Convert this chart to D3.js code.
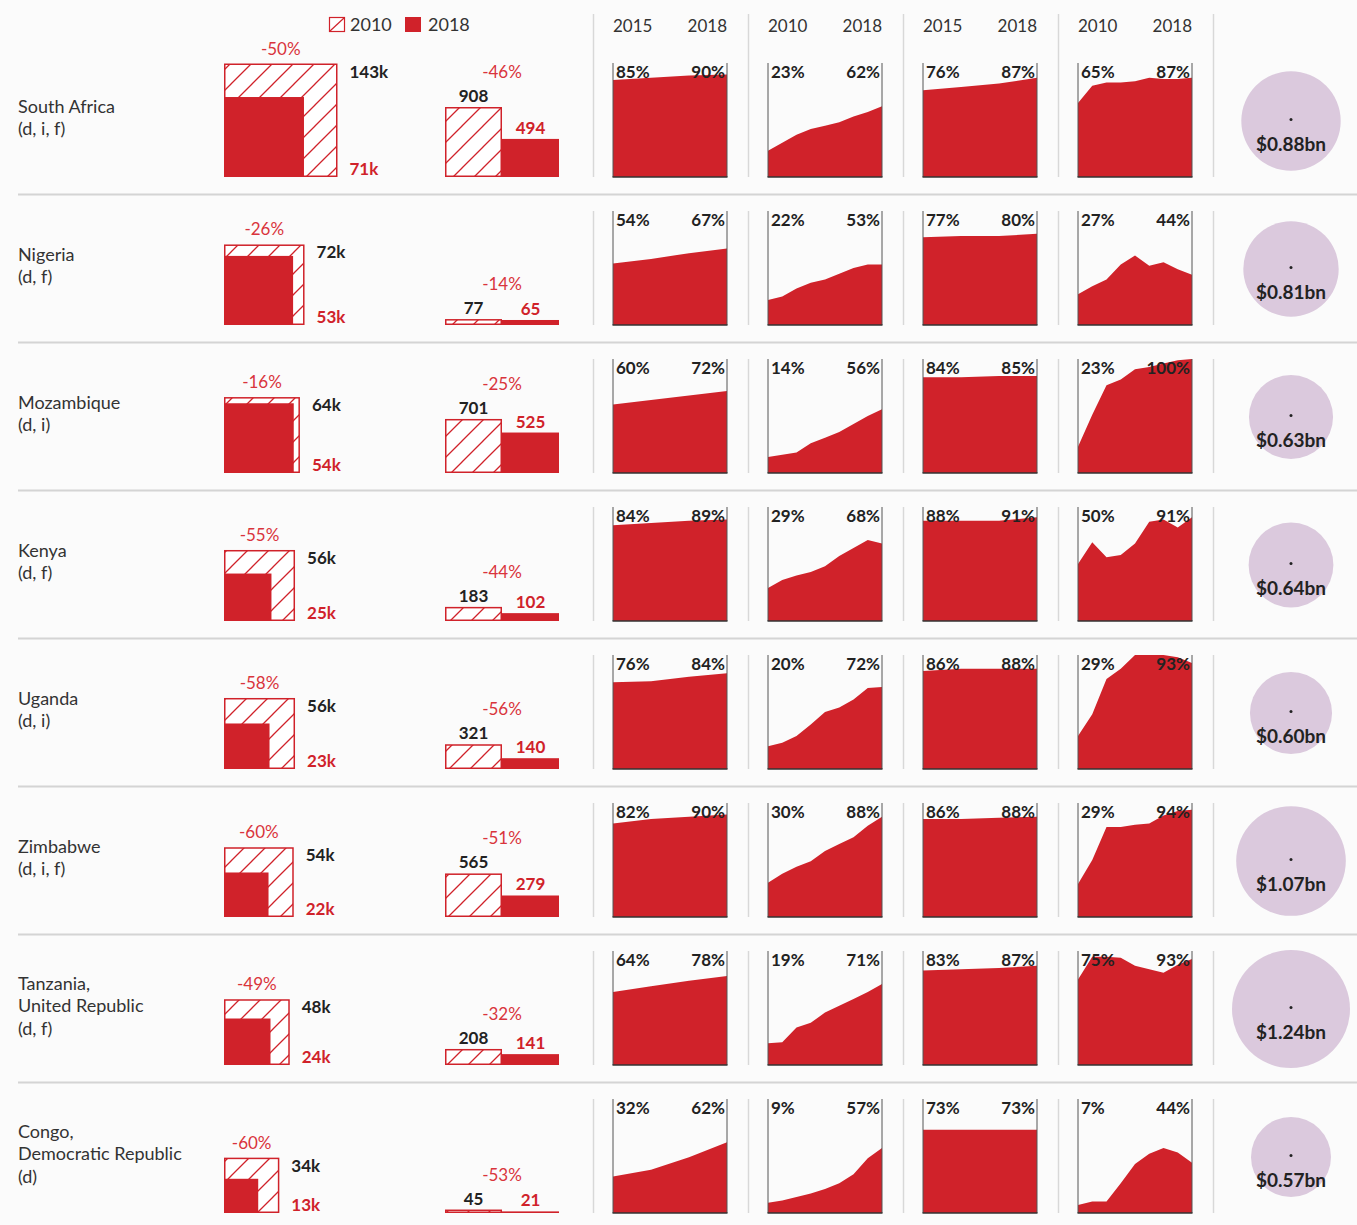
<!DOCTYPE html>
<html><head><meta charset="utf-8">
<script src="https://cdn.jsdelivr.net/npm/d3@7"></script>
<style>
html,body{margin:0;padding:0;background:#fbfbfb;}
svg{display:block;font-family:Lato,"Open Sans",sans-serif;}
</style></head><body>
<svg id="c" width="1357" height="1225"></svg>
<script>
// ---------- DATA ----------
const countryLines = [
  ["South Africa", "(d, i, f)"],
  ["Nigeria", "(d, f)"],
  ["Mozambique", "(d, i)"],
  ["Kenya", "(d, f)"],
  ["Uganda", "(d, i)"],
  ["Zimbabwe", "(d, i, f)"],
  ["Tanzania,", "United Republic", "(d, f)"],
  ["Congo,", "Democratic Republic", "(d)"]
];
const legendLabels = ["2010", "2018"];
const square2010 = [143, 72, 64, 56, 56, 54, 48, 34];   // thousands
const square2018 = [71, 53, 54, 25, 23, 22, 24, 13];
const squareChange = ["-50%", "-26%", "-16%", "-55%", "-58%", "-60%", "-49%", "-60%"];
const bar2010 = [908, 77, 701, 183, 321, 565, 208, 45];
const bar2018 = [494, 65, 525, 102, 140, 279, 141, 21];
const barChange = ["-46%", "-14%", "-25%", "-44%", "-56%", "-51%", "-32%", "-53%"];
const fundingBn = [0.88, 0.81, 0.63, 0.64, 0.60, 1.07, 1.24, 0.57];

const years4 = [2015, 2016, 2017, 2018];
const years9 = [2010, 2011, 2012, 2013, 2014, 2015, 2016, 2017, 2018];
const panelYears = [years4, years9, years4, years9];

const panel1 = [
  [85, 87, 89, 90], [54, 58, 63, 67], [60, 64, 68, 72], [84, 86, 88, 89],
  [76, 77, 81, 84], [82, 86, 88, 90], [64, 69, 74, 78], [32, 38, 49, 62]
];
const panel2 = [
  [23, 30, 37, 42, 45, 48, 53, 57, 62],
  [22, 25, 32, 37, 40, 45, 50, 53, 53],
  [14, 16, 18, 26, 31, 36, 43, 50, 56],
  [29, 36, 40, 43, 48, 57, 64, 71, 68],
  [20, 23, 29, 39, 50, 54, 61, 71, 72],
  [30, 38, 44, 49, 58, 64, 70, 80, 88],
  [19, 20, 33, 37, 46, 52, 58, 64, 71],
  [9, 11, 14, 17, 21, 26, 34, 48, 57]
];
const panel3 = [
  [76, 79, 82, 87], [77, 78, 78, 80], [84, 84, 85, 85], [88, 88, 88, 91],
  [86, 88, 88, 88], [86, 86, 87, 88], [83, 84, 85, 87], [73, 73, 73, 73]
];
const panel4 = [
  [65, 80, 83, 83, 84, 87, 86, 86, 87],
  [27, 34, 40, 53, 61, 52, 55, 49, 44],
  [23, 51, 77, 82, 91, 93, 96, 99, 100],
  [50, 69, 56, 58, 68, 87, 89, 82, 91],
  [29, 48, 79, 88, 100, 100, 100, 98, 93],
  [29, 50, 79, 79, 81, 82, 89, 93, 94],
  [75, 95, 95, 94, 87, 84, 81, 88, 93],
  [7, 10, 10, 26, 43, 52, 57, 53, 44]
];
const panels = [panel1, panel2, panel3, panel4];

// ---------- DRAW ----------
const svg = d3.select("#c");
const RED = "#d0222a", LRED = "#d9343c", DARK = "#222", TXT = "#333";
svg.append("rect").attr("width", 1357).attr("height", 1225).attr("fill", "#fbfbfb");

const defs = svg.append("defs");
const pat = defs.append("pattern").attr("id", "hatch").attr("patternUnits", "userSpaceOnUse")
  .attr("width", 21).attr("height", 21);
pat.append("rect").attr("width", 21).attr("height", 21).attr("fill", "#fff");
pat.append("path").attr("d", "M-1,22 L22,-1 M-6,6 L6,-6 M15,27 L27,15")
  .attr("stroke", RED).attr("stroke-width", 1.3);

const rowH = 148, row0 = 46, panelH = 114, panelW = 114;
const panelX = [613, 768, 923, 1078];
const sepX = [593, 748, 903, 1058, 1213];
const sqScale = d3.scaleSqrt().domain([0, 143]).range([0, 113.5]);
const barScale = d3.scaleLinear().domain([0, 908]).range([0, 70]);
const rScale = d3.scaleSqrt().domain([0, 1.24]).range([0, 59]);

// header years
panelYears.forEach((yrs, p) => {
  svg.append("text").attr("x", panelX[p]).attr("y", 32).attr("font-size", 17).attr("fill", TXT)
    .text(yrs[0]);
  svg.append("text").attr("x", panelX[p] + panelW).attr("y", 32).attr("font-size", 17).attr("fill", TXT)
    .attr("text-anchor", "end").text(yrs[yrs.length - 1]);
});

// legend
svg.append("rect").attr("x", 329.5).attr("y", 17.5).attr("width", 15).attr("height", 14)
  .attr("fill", "#fff").attr("stroke", RED).attr("stroke-width", 1.2);
svg.append("line").attr("x1", 330).attr("y1", 31).attr("x2", 344).attr("y2", 18)
  .attr("stroke", RED).attr("stroke-width", 1.2);
svg.append("text").attr("x", 350).attr("y", 31).attr("font-size", 18).attr("fill", TXT).text(legendLabels[0]);
svg.append("rect").attr("x", 405).attr("y", 17).attr("width", 16).attr("height", 15).attr("fill", RED);
svg.append("text").attr("x", 428).attr("y", 31).attr("font-size", 18).attr("fill", TXT).text(legendLabels[1]);

// horizontal separators
for (let i = 0; i < countryLines.length - 1; i++) {
  const y = row0 + rowH * (i + 1) + 0.5;
  svg.append("line").attr("x1", 18).attr("x2", 1357).attr("y1", y).attr("y2", y)
    .attr("stroke", "#d4d4d4").attr("stroke-width", 1.8);
}

countryLines.forEach((lines, i) => {
  const top = row0 + rowH * i;
  const base = top + 131;
  const g = svg.append("g");

  // country label
  const cy = top + 72;
  lines.forEach((t, j) => {
    g.append("text").attr("x", 18).attr("y", cy - (lines.length - 1) * 22.5 / 2 + j * 22.5 + 6)
      .attr("font-size", 18).attr("fill", TXT).text(t);
  });

  // squares
  const s10 = sqScale(square2010[i]), s18 = sqScale(square2018[i]);
  g.append("rect").attr("x", 224.75).attr("y", base - s10 + 0.75).attr("width", s10 - 1.5).attr("height", s10 - 1.5)
    .attr("fill", "url(#hatch)").attr("stroke", RED).attr("stroke-width", 1.5);
  g.append("rect").attr("x", 224).attr("y", base - s18).attr("width", s18).attr("height", s18).attr("fill", RED);
  g.append("text").attr("x", 224 + s10 / 2).attr("y", base - s10 - 9).attr("text-anchor", "middle")
    .attr("font-size", 17).attr("fill", LRED).text(squareChange[i]);
  g.append("text").attr("x", 224 + s10 + 12).attr("y", base - s10 + 14).attr("font-size", 17)
    .attr("font-weight", 700).attr("fill", DARK).text(square2010[i] + "k");
  g.append("text").attr("x", 224 + s10 + 12).attr("y", base - 2).attr("font-size", 17)
    .attr("font-weight", 700).attr("fill", RED).text(square2018[i] + "k");

  // bars
  const h10 = barScale(bar2010[i]), h18 = barScale(bar2018[i]);
  g.append("rect").attr("x", 445.75).attr("y", base - h10 + 0.75).attr("width", 55.5).attr("height", Math.max(h10 - 1.5, 0.5))
    .attr("fill", "url(#hatch)").attr("stroke", RED).attr("stroke-width", 1.5);
  g.append("rect").attr("x", 502).attr("y", base - h18).attr("width", 57).attr("height", h18).attr("fill", RED);
  g.append("text").attr("x", 473.5).attr("y", base - h10 - 5).attr("text-anchor", "middle").attr("font-size", 17)
    .attr("font-weight", 700).attr("fill", DARK).text(bar2010[i]);
  g.append("text").attr("x", 530.5).attr("y", base - h18 - 5).attr("text-anchor", "middle").attr("font-size", 17)
    .attr("font-weight", 700).attr("fill", RED).text(bar2018[i]);
  g.append("text").attr("x", 502).attr("y", base - Math.max(h10, h18) - 29).attr("text-anchor", "middle")
    .attr("font-size", 17).attr("fill", LRED).text(barChange[i]);

  // vertical separators
  sepX.forEach(x => {
    g.append("line").attr("x1", x + 0.5).attr("x2", x + 0.5).attr("y1", i === 0 ? 14 : base - panelH).attr("y2", base)
      .attr("stroke", "#d8d8d8").attr("stroke-width", 1.5);
  });

  // area panels
  panels.forEach((panel, p) => {
    const yrs = panelYears[p];
    const vals = panel[i];
    const x0 = panelX[p];
    const xs = d3.scaleLinear().domain([yrs[0], yrs[yrs.length - 1]]).range([x0, x0 + panelW]);
    const ys = d3.scaleLinear().domain([0, 100]).range([base, base - panelH]);
    const cid = "clip" + i + "_" + p;
    defs.append("clipPath").attr("id", cid).append("rect")
      .attr("x", x0).attr("y", base - panelH).attr("width", panelW).attr("height", panelH);
    const area = d3.area().x((d, k) => xs(yrs[k])).y0(base).y1(d => ys(d));
    g.append("path").attr("d", area(vals)).attr("fill", RED).attr("clip-path", `url(#${cid})`);
    g.append("line").attr("x1", x0).attr("x2", x0).attr("y1", base - panelH).attr("y2", base)
      .attr("stroke", "#555").attr("stroke-width", 1);
    g.append("line").attr("x1", x0 + panelW).attr("x2", x0 + panelW).attr("y1", base - panelH).attr("y2", base)
      .attr("stroke", "#555").attr("stroke-width", 1);
    g.append("line").attr("x1", x0 - 0.5).attr("x2", x0 + panelW + 0.5).attr("y1", base).attr("y2", base)
      .attr("stroke", "#333").attr("stroke-width", 1.5);
    g.append("text").attr("x", x0 + 3).attr("y", base - panelH + 15).attr("font-size", 17)
      .attr("font-weight", 700).attr("fill", DARK).text(vals[0] + "%");
    g.append("text").attr("x", x0 + panelW - 2).attr("y", base - panelH + 15).attr("font-size", 17)
      .attr("font-weight", 700).attr("fill", DARK).attr("text-anchor", "end").text(vals[vals.length - 1] + "%");
  });

  // bubble
  const ccy = top + 75;
  g.append("circle").attr("cx", 1291).attr("cy", ccy).attr("r", rScale(fundingBn[i])).attr("fill", "#dbc9dd");
  g.append("circle").attr("cx", 1291).attr("cy", ccy - 1.5).attr("r", 1.5).attr("fill", DARK);
  g.append("text").attr("x", 1291).attr("y", ccy + 30).attr("text-anchor", "middle").attr("font-size", 19)
    .attr("font-weight", 700).attr("fill", DARK).text("$" + fundingBn[i].toFixed(2) + "bn");
});
</script>
</body></html>
